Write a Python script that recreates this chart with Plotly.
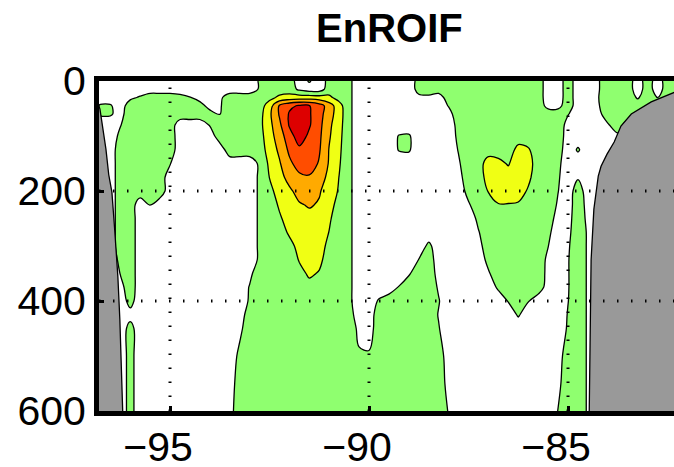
import plotly.graph_objects as go

# Section grid: longitude (deg E) and depth (m)
lon = [-97.0, -96.75, -96.5, -96.25, -96.0, -95.75, -95.5, -95.25, -95.0, -94.75,
       -94.5, -94.25, -94.0, -93.75, -93.5, -93.25, -93.0, -92.75, -92.5, -92.25,
       -92.0, -91.75, -91.5, -91.25, -91.0, -90.75, -90.5, -90.25, -90.0, -89.75,
       -89.5, -89.25, -89.0, -88.75, -88.5, -88.25, -88.0, -87.75, -87.5, -87.25,
       -87.0, -86.75, -86.5, -86.25, -86.0, -85.75, -85.5, -85.25, -85.0, -84.75,
       -84.5, -84.25, -84.0, -83.75, -83.5, -83.25, -83.0, -82.75, -82.5, -82.25]

depth = [0, 15, 30, 45, 60, 80, 100, 125, 150, 175, 200, 225,
         250, 275, 300, 325, 350, 375, 400, 425, 450, 500, 550, 600]

# Field values (one row per depth, one column per longitude)
d000 = [0,0,0,0,0,0,0,0,0,0, 0,0,0,0,0,0,0,0.6,1,1, 1,0,0.6,0,0.8,1,0.7,0,0,0,
        0,0,0,0.8,1,1,1,1,1,1, 1,1,1,1,1,1,0,0,1,0, 0,0.4,1,1,1,0,1,0,1,1]
d015 = [0,0,0,0,0,0,0,0,0,0, 0,0,0,0,0,0,0,0.6,1,1, 1,0.3,0,0,1,1,0.7,0,0,0,
        0,0,0,0.8,1,1,1,1,1,1, 1,1,1,1,1,1,0,0,1,0, 0,0.4,1,1,1,0,1,0,1,1]
d030 = [0,0,0,0,0.3,0.6,1,1,1,0.8, 0.55,0,0,0.3,1,1,1,1,1.2,1.7, 1.9,2.0,2.0,1.9,1.7,1.1,0.7,0,0,0,
        0,0,0,0.3,0.3,0,1,1,1,1, 1,1,1,1,1,1,0,0,1,0, 0,0.45,1,1,1,0.4,1,0.45,1,1]
d045 = [0,0.6,0.6,0,1,1,1,1,1,1, 1,1,0,0.4,1,1,1,1.0,2.0,3.6, 4.3,4.6,4.55,4.0,3.0,1.9,0.7,0,0,0,
        0,0,0,0,0,0,0.55,1,1,1, 1,1,1,1,1,1,0.2,0.2,1,0, 0,0.4,1,1,1,1,1,1,1,1]
d060 = [0,0.6,0.6,0.2,1,1,1,1,1,1, 1,1,1,0.45,1,1,1,1.1,2.3,3.6, 4.6,5.3,4.6,3.9,2.9,2.0,0.7,0,0,0,
        0,0,0,0,0,0,0.2,1,1,1, 1,1,1,1,1,1,1,1,0.55,0, 0,0.2,1,1,1,1,1,1,1,1]
d080 = [0,0,0,0.45,1,1,1,1,1,0, 0,0,0.55,1,1,1,1,1.2,2.2,3.3, 4.6,5.4,4.6,3.8,2.7,1.9,0.7,0,0,0,
        0,0,0,0,0,0,0,0.8,1,1, 1,1,1,1,1,1,1,1,0.2,0, 0,0,0.4,1,0,0,0,0,0,0]
d100 = [0,0,0,0.7,1,1,1,1,1,0, 0,0,0,1,1,1,1,1.1,2.1,3.0, 4.1,5.0,4.3,3.7,2.6,1.8,0.7,0,0,0,
        0,0.55,0.6,0,0,0,0,0.7,1,1, 1,1,1,1,1,1,1,1,0.1,0, 0,0,0,0.3,0,0,0,0,0,0]
d125 = [0,0,0,1,1,1,1,1,1,0, 0,0,0,0,1,1,1,1.0,1.9,2.7, 3.7,4.3,4.2,3.6,2.45,1.7,0.7,0,0,0,
        0,0.55,0.6,0,0,0,0,0.55,1,1, 1,1,1,1.8,1.6,1,1,0.9,0,0.6, 0,0,0,0,0,0,0,0,0,0]
d150 = [0,0,0,1,1,1,1,1,0.55,0, 0,0,0,0,0,0,0,0.65,1.7,2.4, 3.3,3.9,4.0,3.4,2.4,1.6,0.7,0,0,0,
        0,0,0,0,0,0,0,0.4,1,1, 2.0,1.8,1.4,2.2,1.9,1,1,0.7,0,0, 0,0,0,0,0,0,0,0,0,0]
d175 = [0,0,0,1,1,1,1,1,0,0, 0,0,0,0,0,0,0,0.65,1.52,2.1, 2.9,3.3,3.4,3.0,2.2,1.48,0.7,0,0,0,
        0,0,0,0,0,0,0,0.2,1,1, 1.9,2.0,2.0,2.0,1.7,1,1,0.6,0,0.4, 0,0,0,0,0,0,0,0,0,0]
d200 = [0,0,0,1,1,1,1,1,0,0, 0,0,0,0,0,0,0,0.65,1.3,1.8, 2.3,2.9,3.0,2.6,2.0,1.4,0.7,0,0,0,
        0,0,0,0,0,0,0,0,0.8,1, 1.55,2.0,2.0,1.9,1.4,1,1,0.52,0,1, 0,0,0,0,0,0,0,0,0,0]
d225 = [0,0,0,1,1,0,0.55,0,0,0, 0,0,0,0,0,0,0,0.65,1.1,1.6, 2.0,2.4,2.6,2.4,1.8,1.2,0.7,0,0,0,
        0,0,0,0,0,0,0,0,0.4,1, 1,1.45,1.45,1.4,1,1,1,0.4,0.1,1, 0.2,0,0,0,0,0,0,0,0,0]
d250 = [0,0,0,1,1,0,0,0,0,0, 0,0,0,0,0,0,0,0.65,1.0,1.4, 1.8,2.1,2.2,2.0,1.6,1.1,0.7,0,0,0,
        0,0,0,0,0,0,0,0,0,0.7, 1,1,1,1,1,1,1,0.1,0.2,1, 0.3,0,0,0,0,0,0,0,0,0]
d275 = [0,0,0,1,1,0,0,0,0,0, 0,0,0,0,0,0,0,0.65,1.0,1.2, 1.6,1.9,2.0,1.9,1.48,1.0,0.7,0,0,0,
        0,0,0,0,0,0,0,0,0,0.45, 1,1,1,1,1,1,0.7,0,0.3,1, 0.4,0,0,0,0,0,0,0,0,0]
d300 = [0,0,0,1,1,0,0,0,0,0, 0,0,0,0,0,0,0,0.65,1.0,1.0, 1.3,1.7,1.9,1.8,1.3,1.0,0.7,0,0,0,
        0,0,0,0,0.7,0,0,0,0,0.2, 1,1,1,1,1,1,0.52,0,0.4,1, 0.4,0,0,0,0,0,0,0,0,0]
d325 = [0,0,0,0.7,1,0,0,0,0,0, 0,0,0,0,0,0,0,0.65,1.0,1.0, 1.1,1.55,1.8,1.65,1.2,1.0,0.7,0,0,0,
        0,0,0,0.52,1,0,0,0,0,0, 0.75,1,1,1,1,1,0.3,0,0.45,1, 0.4,0,0,0,0,0,0,0,0,0]
d350 = [0,0,0,0.52,1,0,0,0,0,0, 0,0,0,0,0,0,0.3,1,1,1, 1,1.3,1.6,1.45,1.1,1,0.7,0,0,0,
        0,0,0.4,1,1,0.2,0,0,0,0, 0.4,1,1,1,1,1,0.25,0,0.45,1, 0.4,0,0,0,0,0,0,0,0,0]
d375 = [0,0,0,0.2,1,0,0,0,0,0, 0,0,0,0,0,0,0.55,1,1,1, 1,1,1.3,1,1,1,0.7,0,0,0,
        0,0.55,1,1,1,0.4,0,0,0,0, 0,0.65,1,1,1,1,0.1,0,0.45,1, 0.4,0,0,0,0,0,0,0,0,0]
d400 = [0,0,0,0,0.8,0,0,0,0,0, 0,0,0,0,0,0,0.6,1,1,1, 1,1,1,1,1,1,0.7,0,0,0.6,
        1,1,1,1,1,0.55,0,0,0,0, 0,0,0.55,1,0.55,0,0,0,0.48,1, 0.4,0,0,0,0,0,0,0,0,0]
d425 = [0,0,0,0,0.2,0,0,0,0,0, 0,0,0,0,0,0,1,1,1,1, 1,1,1,1,1,1,0.9,0,0,1,
        1,1,1,1,1,0.45,0,0,0,0, 0,0,0,0.6,0,0,0,0,0.55,1, 0.4,0,0,0,0,0,0,0,0,0]
d450 = [0,0,0,0,0.8,0,0,0,0,0, 0,0,0,0,0,0.3,1,1,1,1, 1,1,1,1,1,1,1,0.3,0.1,1,
        1,1,1,1,1,0.55,0,0,0,0, 0,0,0,0,0,0,0,0,0.6,1, 0.4,0,0,0,0,0,0,0,0,0]
d500 = [0,0,0,0,0.8,0,0,0,0,0, 0,0,0,0,0,0.7,1,1,1,1, 1,1,1,1,1,1,1,0.6,0.6,1,
        1,1,1,1,1,1,0,0,0,0, 0,0,0,0,0,0,0,0.1,1,1, 0.4,0,0,0,0,0,0,0,0,0]
d550 = [0,0,0,0,0.8,0,0,0,0,0, 0,0,0,0,0,1,1,1,1,1, 1,1,1,1,1,1,1,1,1,1,
        1,1,1,1,1,1,0.2,0,0,0, 0,0,0,0,0,0,0,0.3,1,1, 0.4,0,0,0,0,0,0,0,0,0]
d600 = [0,0,0,0,0.8,0,0,0,0,0, 0,0,0,0,0.2,1,1,1,1,1, 1,1,1,1,1,1,1,1,1,1,
        1,1,1,1,1,1,0.45,0,0,0, 0,0,0,0,0,0,0,0.52,1,1, 0.4,0,0,0,0,0,0,0,0,0]

field = [d000, d015, d030, d045, d060, d080, d100, d125, d150, d175, d200, d225,
         d250, d275, d300, d325, d350, d375, d400, d425, d450, d500, d550, d600]

# Contour levels and band colours (below first level, then each band upward)
level_start, level_end, level_step = 0.5, 4.5, 1.0
band_colors = ["#ffffff", "#8fff6f", "#f0ff14", "#ffaa00", "#ff4d00", "#dd0000"]

# Sea floor outlines (lon, depth)
west_floor_lon = [-97.5, -96.84, -96.76, -96.69, -96.61, -96.54, -96.46, -96.39,
                  -96.31, -96.26, -96.21, -96.18, -97.5]
west_floor_depth = [20, 33, 51, 82, 124, 170, 202, 270, 356, 434, 525, 620, 620]
east_floor_lon = [-84.47, -84.45, -84.42, -84.35, -84.24, -84.17, -84.02, -83.84,
                  -83.67, -83.41, -82.91, -82.31, -82.0, -82.0]
east_floor_depth = [620, 452, 325, 233, 173, 155, 133, 111, 82, 60, 38, 20, 15, 620]

x_ticks = [-95, -90, -85]
y_ticks = [0, 200, 400, 600]
x_range = [-96.784, -82.337]
y_range = [600, 0]

# Stepwise colour scale: one flat step per band
n_bands = len(band_colors)
colorscale = []
for i, c in enumerate(band_colors):
    lo = 0.0 if i == 0 else (i - 0.5) / (n_bands - 1)
    hi = 1.0 if i == n_bands - 1 else (i + 0.5) / (n_bands - 1)
    colorscale.append([lo, c])
    colorscale.append([hi, c])

fig = go.Figure()
fig.add_trace(go.Contour(
    x=lon, y=depth, z=field,
    contours=dict(start=level_start, end=level_end, size=level_step,
                  coloring="fill", showlines=True),
    line=dict(color="black", width=1.3, smoothing=1.0),
    colorscale=colorscale, showscale=False, hoverinfo="skip",
))
for fx, fy in [(west_floor_lon, west_floor_depth), (east_floor_lon, east_floor_depth)]:
    fig.add_trace(go.Scatter(
        x=fx, y=fy, mode="lines", fill="toself", fillcolor="#999999",
        line=dict(color="black", width=1.3), showlegend=False, hoverinfo="skip",
    ))

# Dotted grid drawn over the fills
grid_line = dict(color="black", width=3, dash="1.5px,12.5px")
for xv in x_ticks:
    fig.add_shape(type="line", xref="x", yref="y", x0=xv, x1=xv,
                  y0=y_range[0], y1=y_range[1], line=grid_line, layer="above")
for yv in y_ticks[1:-1]:
    fig.add_shape(type="line", xref="x", yref="y", x0=x_range[0], x1=x_range[1],
                  y0=yv, y1=yv, line=grid_line, layer="above")

tick_font = dict(family="Liberation Sans, Arial, sans-serif", size=41, color="black")
fig.update_layout(
    width=674, height=467,
    margin=dict(l=99, r=0, t=81, b=56, autoexpand=False),
    paper_bgcolor="white", plot_bgcolor="white",
    showlegend=False,
    title=dict(text="<b>EnROIF</b>", x=0.505, xref="paper", xanchor="center",
               y=0.94, yref="container", yanchor="middle",
               font=dict(family="Liberation Sans, Arial, sans-serif", size=40, color="black")),
    xaxis=dict(range=x_range, tickvals=x_ticks, showgrid=False, zeroline=False,
               automargin=False,
               showline=True, linecolor="black", linewidth=5, mirror=True,
               ticks="inside", ticklen=5, tickwidth=3, tickcolor="black",
               tickfont=tick_font, ticklabelshift=-12, ticklabelstandoff=-4),
    yaxis=dict(range=y_range, tickvals=y_ticks, showgrid=False, zeroline=False,
               automargin=False,
               showline=True, linecolor="black", linewidth=5, mirror=False,
               ticks="inside", ticklen=5, tickwidth=3, tickcolor="black",
               tickfont=tick_font),
)

fig.write_html("out.html")
